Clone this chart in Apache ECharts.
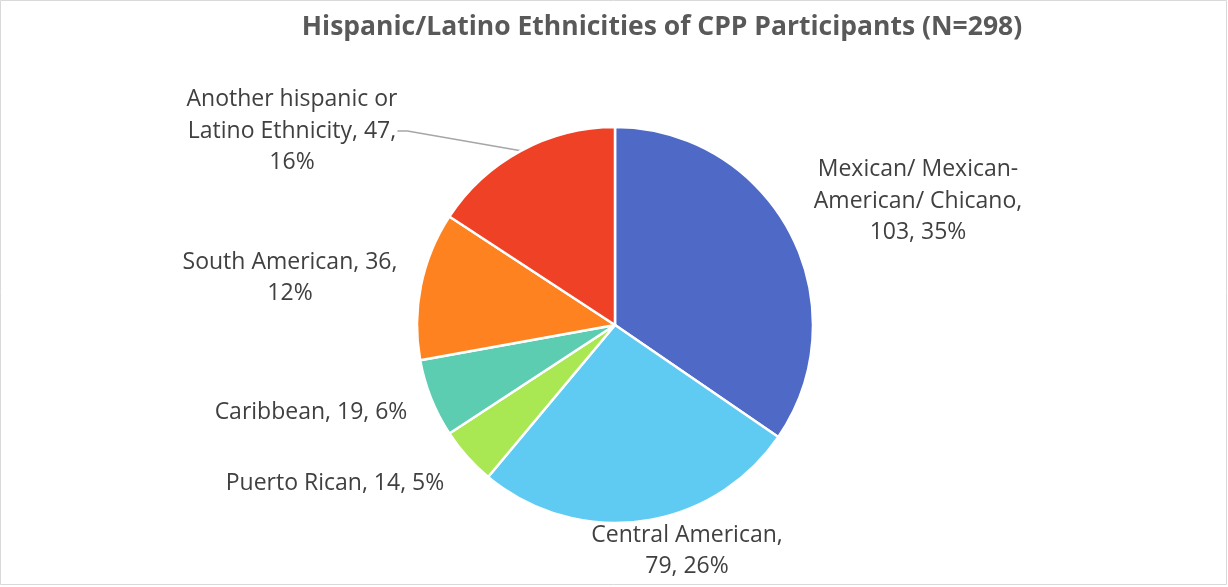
<!DOCTYPE html>
<html>
<head>
<meta charset="utf-8">
<script src="https://cdn.jsdelivr.net/npm/echarts@6/dist/echarts.min.js"></script>
<style>
  html, body { margin: 0; padding: 0; background: #fff; }
  #chart { width: 1228px; height: 587px; }
</style>
</head>
<body>
<div id="chart"></div>
<script>
// Hispanic/Latino ethnicities of CPP participants, clockwise from 12 o'clock
const categories = [
  'Mexican/ Mexican-American/ Chicano',
  'Central American',
  'Puerto Rican',
  'Caribbean',
  'South American',
  'Another hispanic or Latino Ethnicity'
];
const counts = [103, 79, 14, 19, 36, 47];
const percents = [35, 26, 5, 6, 12, 16];
// Label text as wrapped in the chart
const labelLines = [
  ['Mexican/ Mexican-', 'American/ Chicano,', '{v}, {p}%'],
  ['Central American,', '{v}, {p}%'],
  ['Puerto Rican, {v}, {p}%'],
  ['Caribbean, {v}, {p}%'],
  ['South American, {v},', '{p}%'],
  ['Another hispanic or', 'Latino Ethnicity, {v},', '{p}%']
];
const colors = ['#4F69C6', '#5FCBF2', '#A9E852', '#5DCDB2', '#FF8220', '#EF4125'];

// label anchor points (centre of each label block)
const labelPos = [
  [918, 201], [687, 551], [335, 483], [311, 412], [290, 278], [292, 131]
];

const FONT = '"Open Sans", Lato, sans-serif';

const chart = echarts.init(document.getElementById('chart'));
chart.setOption({
  backgroundColor: '#ffffff',
  animation: false,
  title: {
    text: 'Hispanic/Latino Ethnicities of CPP Participants (N=298)',
    left: 657,
    top: 9,
    textAlign: 'center',
    textStyle: { fontFamily: FONT, fontSize: 26.5, fontWeight: 'bold', color: '#595959' }
  },
  graphic: [{
    type: 'rect',
    shape: { x: 0.5, y: 0.5, width: 1226, height: 584 },
    style: { fill: 'none', stroke: '#d9d9d9', lineWidth: 1 },
    silent: true
  }],
  series: [{
    type: 'pie',
    center: [615, 325],
    radius: 198,
    startAngle: 90,
    clockwise: true,
    itemStyle: { borderColor: '#ffffff', borderWidth: 2.5 },
    label: {
      show: true,
      fontFamily: FONT,
      fontSize: 23,
      lineHeight: 31.5,
      color: '#404040',
      align: 'center',
      formatter: p => labelLines[p.dataIndex].join('\n')
        .replace('{v}', counts[p.dataIndex]).replace('{p}', percents[p.dataIndex])
    },
    labelLine: { show: false },
    labelLayout: p => ({
      x: labelPos[p.dataIndex][0],
      y: labelPos[p.dataIndex][1],
      align: 'center',
      verticalAlign: 'middle'
    }),
    data: categories.map((name, i) => ({
      name,
      value: counts[i],
      itemStyle: { color: colors[i] },
      labelLine: i === 5
        ? { show: true, length: 10, length2: 10, lineStyle: { color: '#a6a6a6', width: 1.5 } }
        : { show: false }
    }))
  }]
});
</script>
</body>
</html>
